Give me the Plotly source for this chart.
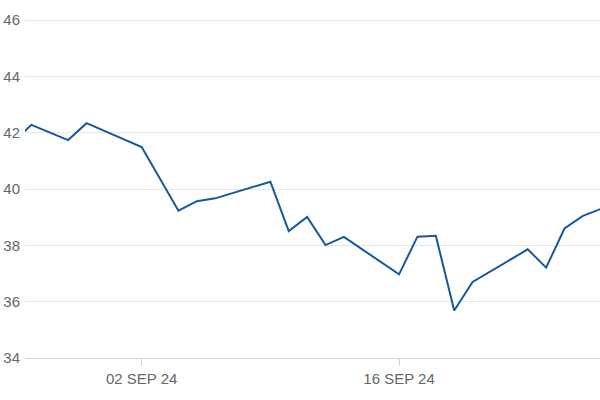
import plotly.graph_objects as go

dates = ["2024-08-26", "2024-08-27", "2024-08-29", "2024-08-30", "2024-09-02",
         "2024-09-04", "2024-09-05", "2024-09-06", "2024-09-09", "2024-09-10",
         "2024-09-11", "2024-09-12", "2024-09-13", "2024-09-16", "2024-09-17",
         "2024-09-18", "2024-09-19", "2024-09-20", "2024-09-23", "2024-09-24",
         "2024-09-25", "2024-09-26", "2024-09-27"]
values = [41.66, 42.28, 41.74, 42.34, 41.49,
          39.23, 39.57, 39.67, 40.26, 38.51,
          39.01, 38.01, 38.30, 36.97, 38.31,
          38.34, 35.69, 36.70, 37.86, 37.21,
          38.60, 39.05, 39.30]

x_tickvals = ["2024-09-02", "2024-09-16"]
x_ticktext = ["02 SEP 24", "16 SEP 24"]
y_tickvals = [34, 36, 38, 40, 42, 44, 46]

fig = go.Figure()
fig.add_trace(go.Scatter(x=dates, y=values, mode="lines",
                         line=dict(color="#17589a", width=2),
                         hoverinfo="skip"))

fig.update_layout(
    width=600, height=400,
    margin=dict(l=25, r=0, t=19, b=42),
    paper_bgcolor="white", plot_bgcolor="white",
    showlegend=False,
    font=dict(family="Liberation Sans, Arial, sans-serif", size=15, color="#666666"),
)
fig.update_xaxes(
    type="date", automargin=False,
    range=["2024-08-26 15:40", "2024-09-26 22:20"],
    tickvals=x_tickvals, ticktext=x_ticktext,
    showgrid=False, zeroline=False,
    showline=True, linecolor="#cfd3da", linewidth=1,
    ticks="outside", ticklen=7, tickcolor="#cfd3da",
    tickfont=dict(size=15, color="#666666"),
)
fig.update_yaxes(
    automargin=False,
    range=[34, 46.04],
    tickvals=y_tickvals,
    showgrid=True, gridcolor="#e6e6e6", gridwidth=1,
    zeroline=False, showline=False,
    ticks="", ticklabelstandoff=4,
    tickfont=dict(size=15, color="#666666"),
)

fig.write_html("out.html", config={"displayModeBar": False},
               post_script="document.body.style.margin='0';")
